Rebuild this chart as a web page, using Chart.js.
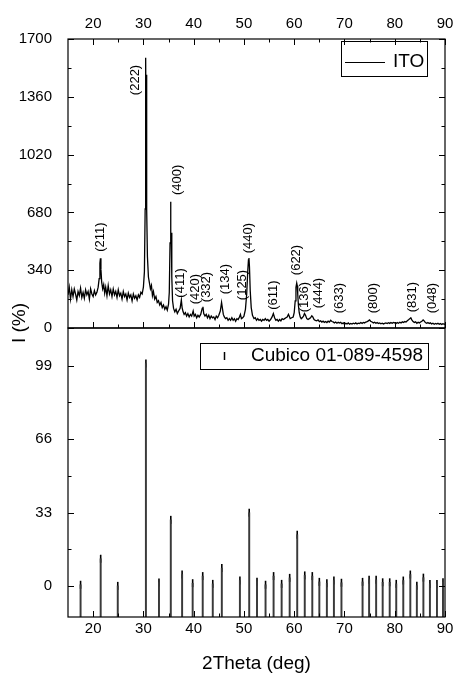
<!DOCTYPE html>
<html>
<head>
<meta charset="utf-8">
<script src="https://cdn.jsdelivr.net/npm/chart.js@4.4.0/dist/chart.umd.min.js"></script>
<style>
  html, body { margin: 0; padding: 0; background: #fff; }
  #wrap { width: 455px; height: 673px; }
</style>
</head>
<body>
<div id="wrap"><canvas id="xrd" width="455" height="673"></canvas></div>
<script>
// measured ITO pattern (2theta in deg, intensity in counts)
const twoTheta = [
  15.0, 15.25, 15.5, 15.75, 16.0, 16.25, 16.5, 16.75, 17.0, 17.25, 17.5, 17.75, 18.0, 18.25, 18.5, 18.75,
  19.0, 19.25, 19.5, 19.75, 20.0, 20.25, 20.5, 20.75, 21.0, 21.2, 21.35, 21.45, 21.55, 21.7, 21.9, 22.1,
  22.3, 22.5, 22.75, 23.0, 23.25, 23.5, 23.75, 24.0, 24.25, 24.5, 24.75, 25.0, 25.25, 25.5, 25.75, 26.0,
  26.25, 26.5, 26.75, 27.0, 27.25, 27.5, 27.75, 28.0, 28.25, 28.5, 28.75, 29.0, 29.25, 29.5, 29.75, 30.0,
  30.2, 30.35, 30.45, 30.52, 30.6, 30.7, 30.8, 31.0, 31.2, 31.4, 31.6, 31.8, 32.0, 32.25, 32.5, 32.75,
  33.0, 33.25, 33.5, 33.75, 34.0, 34.25, 34.5, 34.75, 35.0, 35.15, 35.3, 35.4, 35.48, 35.55, 35.65, 35.8,
  36.0, 36.25, 36.5, 36.75, 37.0, 37.3, 37.55, 37.7, 37.9, 38.1, 38.35, 38.6, 38.85, 39.1, 39.35, 39.6,
  39.9, 40.1, 40.35, 40.6, 40.85, 41.1, 41.4, 41.7, 41.85, 42.0, 42.25, 42.5, 42.75, 43.0, 43.25, 43.5,
  43.75, 44.0, 44.25, 44.5, 44.75, 45.0, 45.3, 45.55, 45.7, 45.9, 46.1, 46.35, 46.6, 46.85, 47.1, 47.35,
  47.6, 47.85, 48.1, 48.35, 48.6, 48.85, 49.1, 49.3, 49.5, 49.75, 50.0, 50.3, 50.55, 50.75, 50.9, 51.0,
  51.1, 51.25, 51.45, 51.7, 52.0, 52.25, 52.5, 52.75, 53.0, 53.25, 53.5, 53.75, 54.0, 54.25, 54.5, 54.75,
  55.0, 55.3, 55.6, 55.85, 56.1, 56.35, 56.6, 56.85, 57.1, 57.35, 57.6, 57.85, 58.1, 58.35, 58.6, 58.85,
  59.0, 59.2, 59.5, 59.8, 60.0, 60.2, 60.35, 60.5, 60.6, 60.7, 60.85, 61.0, 61.2, 61.4, 61.6, 61.85,
  62.05, 62.25, 62.5, 62.75, 63.0, 63.25, 63.5, 63.7, 63.95, 64.2, 64.5, 64.75, 65.0, 65.25, 65.5, 65.75,
  66.0, 66.25, 66.5, 66.75, 67.0, 67.25, 67.5, 67.75, 68.0, 68.25, 68.5, 68.75, 69.0, 69.25, 69.5, 69.75,
  70.0, 70.25, 70.5, 70.75, 71.0, 71.25, 71.5, 71.75, 72.0, 72.25, 72.5, 72.75, 73.0, 73.25, 73.5, 73.75,
  74.0, 74.25, 74.5, 74.75, 75.0, 75.2, 75.5, 75.75, 76.0, 76.25, 76.5, 76.75, 77.0, 77.25, 77.5, 77.75,
  78.0, 78.25, 78.5, 78.75, 79.0, 79.25, 79.5, 79.75, 80.0, 80.25, 80.5, 80.75, 81.0, 81.25, 81.5, 81.75,
  82.0, 82.25, 82.5, 82.75, 83.0, 83.2, 83.4, 83.65, 83.9, 84.15, 84.4, 84.65, 84.9, 85.15, 85.4, 85.65,
  85.85, 86.1, 86.35, 86.6, 86.85, 87.1, 87.35, 87.6, 87.85, 88.1, 88.35, 88.6, 88.85, 89.1, 89.35, 89.6,
  89.85, 90.0
];
const intensity = [
  195, 240, 170, 225, 185, 230, 200, 165, 215, 190, 235, 180, 210, 175, 225, 195,
  215, 170, 230, 200, 185, 220, 195, 210, 240, 290, 380, 410, 345, 270, 230, 255,
  205, 240, 190, 250, 200, 225, 185, 230, 195, 215, 180, 225, 190, 205, 170, 215,
  185, 200, 165, 205, 180, 195, 160, 200, 175, 190, 165, 195, 180, 210, 200, 240,
  330, 700, 1590, 1200, 1490, 700, 420, 300, 265, 230, 250, 190, 215, 170, 185, 150,
  160, 135, 150, 120, 135, 110, 125, 105, 140, 210, 500, 743, 520, 560, 300, 160,
  115, 95, 110, 85, 100, 115, 165, 120, 95, 80, 90, 70, 85, 65, 80, 70,
  100, 70, 80, 60, 75, 65, 80, 115, 125, 85, 70, 80, 60, 75, 55, 70,
  60, 65, 50, 70, 60, 75, 100, 150, 120, 80, 65, 55, 60, 45, 55, 45,
  60, 45, 55, 40, 55, 50, 65, 80, 55, 60, 70, 110, 200, 330, 400, 412,
  360, 220, 120, 75, 55, 60, 45, 55, 45, 50, 40, 50, 45, 55, 45, 50,
  40, 50, 65, 85, 60, 45, 50, 40, 50, 42, 55, 50, 55, 60, 65, 80,
  70, 55, 60, 65, 90, 160, 240, 265, 250, 200, 130, 90, 65, 55, 60, 70,
  85, 75, 55, 50, 55, 60, 72, 65, 50, 45, 42, 48, 38, 42, 35, 40,
  33, 38, 32, 40, 35, 45, 38, 36, 30, 35, 28, 34, 29, 33, 25, 30,
  22, 28, 24, 30, 22, 27, 23, 28, 25, 30, 24, 28, 26, 32, 27, 33,
  30, 35, 38, 42, 48, 40, 35, 30, 34, 28, 32, 26, 30, 25, 28, 24,
  27, 30, 26, 31, 27, 32, 28, 33, 30, 26, 32, 28, 34, 30, 36, 32,
  38, 35, 42, 48, 55, 60, 48, 38, 32, 36, 28, 34, 30, 35, 40, 48,
  42, 32, 28, 32, 26, 30, 24, 28, 22, 27, 23, 28, 22, 26, 21, 25,
  22, 24
];

// reference card Cubico 01-089-4598: line positions and relative intensities
const refPos = [
  17.5, 21.5, 24.9, 30.5, 33.1, 35.45, 37.7, 39.8, 41.8, 43.8, 45.6, 49.2, 51.05,
  52.6, 54.3, 55.9, 57.5, 59.1, 60.6, 62.1, 63.6, 65.0, 66.5, 67.9, 69.4, 73.6,
  74.9, 76.3, 77.6, 79.0, 80.3, 81.7, 83.1, 84.4, 85.7, 87.0, 88.4, 89.6
];
const refInt = [
  0.5, 12.2, 0.0, 100, 1.5, 29.7, 5.1, 1.2, 4.4, 0.9, 8.0, 2.4, 32.9,
  1.9, 0.5, 4.4, 0.9, 3.6, 23.0, 4.7, 4.4, 1.8, 1.2, 2.4, 1.4, 1.8,
  2.8, 2.7, 1.6, 1.6, 0.9, 2.4, 5.1, 0.1, 3.7, 0.9, 0.9, 1.6
];

// Miller indices written next to the measured peaks (label centre in data units)
const hklText = ['(211)', '(222)', '(400)', '(411)', '(420)', '(332)', '(134)', '(125)', '(440)',
                 '(611)', '(622)', '(136)', '(444)', '(633)', '(800)', '(831)', '(048)'];
const hklX = [21.5, 28.5, 36.8, 37.4, 40.3, 42.6, 46.4, 49.7, 50.8, 55.8, 60.5, 62.1, 64.8, 68.9, 75.7, 83.6, 87.5];
const hklY = [535, 1459, 871, 265, 229, 241, 288, 253, 529, 194, 400, 182, 206, 176, 176, 182, 176];

const xTicks = [20, 30, 40, 50, 60, 70, 80, 90];
const xMinor = [25, 35, 45, 55, 65, 75, 85];
const yTicks = [0, 340, 680, 1020, 1360, 1700];
const yMinor = [170, 510, 850, 1190, 1530];
const y2Ticks = [0, 33, 66, 99];
const y2Minor = [16.5, 49.5, 82.5];

const FONT = "'Liberation Sans', Arial, sans-serif";
Chart.defaults.font.family = FONT;
Chart.defaults.color = '#000';

const refBase = -14;

const fixTicks = list => scale => { scale.ticks = list.map(v => ({ value: v })); };
const plain = v => String(v);

// frames, inward ticks, peak labels, legends and the shared y title
const panelDecor = {
  id: 'panelDecor',
  afterDatasetsDraw(chart) {
    const { ctx, scales } = chart;
    const x = scales.x, y = scales.y, y2 = scales.y2;
    const L = x.left, R = x.right;
    ctx.save();
    ctx.strokeStyle = '#000';
    ctx.lineWidth = 1.2;
    ctx.strokeRect(L, y.top, R - L, y.bottom - y.top);
    ctx.strokeRect(L, y2.top, R - L, y2.bottom - y2.top);

    ctx.lineWidth = 1;
    ctx.beginPath();
    const seg = (x0, y0, x1, y1) => { ctx.moveTo(x0, y0); ctx.lineTo(x1, y1); };
    const xMarks = (vals, len) => vals.forEach(v => {
      const px = Math.round(x.getPixelForValue(v)) + 0.5;
      seg(px, y.top, px, y.top + len);
      seg(px, y.bottom, px, y.bottom - len);
      seg(px, y2.bottom, px, y2.bottom - len);
    });
    const yMarks = (sc, vals, len) => vals.forEach(v => {
      const py = Math.round(sc.getPixelForValue(v)) + 0.5;
      seg(L, py, L + len, py);
      seg(R, py, R - len, py);
    });
    xMarks(xTicks, 6); xMarks(xMinor, 3.5);
    yMarks(y, yTicks, 6); yMarks(y, yMinor, 3.5);
    yMarks(y2, y2Ticks, 6); yMarks(y2, y2Minor, 3.5);
    ctx.stroke();

    ctx.fillStyle = '#000';
    ctx.font = '13px ' + FONT;
    ctx.textAlign = 'center';
    ctx.textBaseline = 'middle';
    hklText.forEach((t, i) => {
      ctx.save();
      ctx.translate(x.getPixelForValue(hklX[i]), y.getPixelForValue(hklY[i]));
      ctx.rotate(-Math.PI / 2);
      ctx.fillText(t, 0, 0);
      ctx.restore();
    });

    // legend of the measured pattern
    ctx.lineWidth = 1;
    ctx.strokeRect(341.5, 41.5, 86, 35);
    ctx.beginPath();
    seg(345, 62.5, 385, 62.5);
    ctx.stroke();
    ctx.font = '19px ' + FONT;
    ctx.textAlign = 'left';
    ctx.fillText('ITO', 393, 62);

    // legend of the reference card
    ctx.strokeRect(200.5, 343.5, 228, 26);
    ctx.lineWidth = 1.5;
    ctx.beginPath();
    seg(224.5, 352, 224.5, 360);
    ctx.stroke();
    ctx.fillText('Cubico 01-089-4598', 251, 356);

    ctx.save();
    ctx.translate(20, 323);
    ctx.rotate(-Math.PI / 2);
    ctx.textAlign = 'center';
    ctx.fillText('I (%)', 0, 0);
    ctx.restore();
    ctx.restore();
  }
};

new Chart(document.getElementById('xrd'), {
  type: 'line',
  data: {
    datasets: [
      {
        type: 'line',
        label: 'ITO',
        data: twoTheta.map((t, i) => ({ x: t, y: intensity[i] })),
        xAxisID: 'x',
        yAxisID: 'y',
        borderColor: '#000',
        borderWidth: 1.3,
        pointRadius: 0,
        tension: 0
      },
      {
        type: 'bar',
        label: 'Cubico 01-089-4598',
        data: refPos.map((t, i) => ({ x: t, y: [refBase, refInt[i]] })),
        xAxisID: 'x',
        yAxisID: 'y2',
        backgroundColor: '#3a3a3a',
        barThickness: 1.3,
        grouped: false
      },
      {
        type: 'scatter',
        data: refPos.map((t, i) => ({ x: t, y: refInt[i] })),
        xAxisID: 'x',
        yAxisID: 'y2',
        pointStyle: 'line',
        rotation: 90,
        radius: 4,
        borderColor: '#000',
        borderWidth: 1.6
      }
    ]
  },
  options: {
    responsive: false,
    animation: false,
    layout: { padding: { right: 10, left: 0, top: 0, bottom: 0 } },
    plugins: { legend: { display: false }, tooltip: { enabled: false } },
    scales: {
      x: {
        type: 'linear', position: 'bottom', min: 15, max: 90, offset: false,
        grid: { display: false }, border: { display: false },
        ticks: { font: { size: 15 }, padding: -5, maxRotation: 0, callback: plain },
        title: { display: true, text: '2Theta (deg)', font: { size: 19 }, padding: { top: 0, bottom: -2 } },
        afterBuildTicks: fixTicks(xTicks),
        afterFit: s => { s.height = 56; }
      },
      xTop: {
        type: 'linear', position: 'top', min: 15, max: 90, offset: false,
        grid: { display: false }, border: { display: false },
        ticks: { font: { size: 15 }, padding: -2, maxRotation: 0, callback: plain },
        afterBuildTicks: fixTicks(xTicks),
        afterFit: s => { s.height = 39; }
      },
      y: {
        type: 'linear', position: 'left', min: 0, max: 1700,
        stack: 'panels', stackWeight: 1, weight: 2,
        grid: { display: false }, border: { display: false },
        ticks: { font: { size: 15 }, padding: 8, callback: plain },
        afterBuildTicks: fixTicks(yTicks),
        afterFit: s => { s.width = 68; }
      },
      y2: {
        type: 'linear', position: 'left', min: refBase, max: 116,
        stack: 'panels', stackWeight: 1, weight: 1,
        grid: { display: false }, border: { display: false },
        ticks: { font: { size: 15 }, padding: 8, callback: plain },
        afterBuildTicks: fixTicks(y2Ticks),
        afterFit: s => { s.width = 68; }
      }
    }
  },
  plugins: [panelDecor]
});
</script>
</body>
</html>
